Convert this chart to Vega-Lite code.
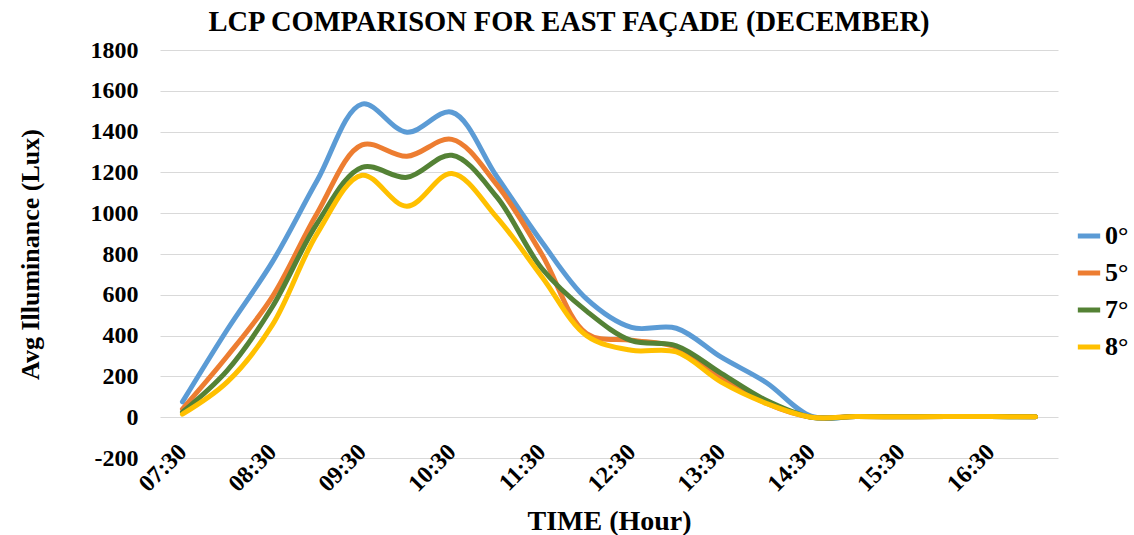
{
  "$schema": "https://vega.github.io/schema/vega-lite/v6.json",
  "autosize": "none",
  "width": 898,
  "height": 408,
  "padding": {"left": 160, "top": 50, "right": 76, "bottom": 77},
  "background": "white",
  "title": {
    "text": "LCP COMPARISON FOR EAST FAÇADE (DECEMBER)",
    "font": "Liberation Serif",
    "fontSize": 28.5,
    "fontWeight": "bold",
    "color": "#000000",
    "anchor": "middle",
    "dx": -40,
    "offset": 2
  },
  "config": {
    "view": {"stroke": null},
    "axis": {
      "labelFont": "Liberation Serif",
      "labelFontWeight": "bold",
      "labelColor": "#000000",
      "titleFont": "Liberation Serif",
      "titleFontWeight": "bold",
      "titleColor": "#000000",
      "gridColor": "#d9d9d9",
      "gridWidth": 1
    }
  },
  "data": {
    "values": [
      {"time": "07:30", "series": "0°", "lux": 75},
      {"time": "08:00", "series": "0°", "lux": 430},
      {"time": "08:30", "series": "0°", "lux": 760},
      {"time": "09:00", "series": "0°", "lux": 1160},
      {"time": "09:30", "series": "0°", "lux": 1535},
      {"time": "10:00", "series": "0°", "lux": 1397},
      {"time": "10:30", "series": "0°", "lux": 1495},
      {"time": "11:00", "series": "0°", "lux": 1180},
      {"time": "11:30", "series": "0°", "lux": 860},
      {"time": "12:00", "series": "0°", "lux": 580},
      {"time": "12:30", "series": "0°", "lux": 440},
      {"time": "13:00", "series": "0°", "lux": 436},
      {"time": "13:30", "series": "0°", "lux": 294},
      {"time": "14:00", "series": "0°", "lux": 170},
      {"time": "14:30", "series": "0°", "lux": 5},
      {"time": "15:00", "series": "0°", "lux": 3},
      {"time": "15:30", "series": "0°", "lux": 3},
      {"time": "16:00", "series": "0°", "lux": 3},
      {"time": "16:30", "series": "0°", "lux": 3},
      {"time": "17:00", "series": "0°", "lux": 2},
      {"time": "07:30", "series": "5°", "lux": 40},
      {"time": "08:00", "series": "5°", "lux": 300},
      {"time": "08:30", "series": "5°", "lux": 590},
      {"time": "09:00", "series": "5°", "lux": 1000},
      {"time": "09:30", "series": "5°", "lux": 1335},
      {"time": "10:00", "series": "5°", "lux": 1279},
      {"time": "10:30", "series": "5°", "lux": 1362},
      {"time": "11:00", "series": "5°", "lux": 1140},
      {"time": "11:30", "series": "5°", "lux": 800},
      {"time": "12:00", "series": "5°", "lux": 410},
      {"time": "12:30", "series": "5°", "lux": 377},
      {"time": "13:00", "series": "5°", "lux": 343},
      {"time": "13:30", "series": "5°", "lux": 196},
      {"time": "14:00", "series": "5°", "lux": 68},
      {"time": "14:30", "series": "5°", "lux": 0},
      {"time": "15:00", "series": "5°", "lux": 3},
      {"time": "15:30", "series": "5°", "lux": 2},
      {"time": "16:00", "series": "5°", "lux": 3},
      {"time": "16:30", "series": "5°", "lux": 4},
      {"time": "17:00", "series": "5°", "lux": 2},
      {"time": "07:30", "series": "7°", "lux": 25},
      {"time": "08:00", "series": "7°", "lux": 230},
      {"time": "08:30", "series": "7°", "lux": 540},
      {"time": "09:00", "series": "7°", "lux": 950},
      {"time": "09:30", "series": "7°", "lux": 1225},
      {"time": "10:00", "series": "7°", "lux": 1176},
      {"time": "10:30", "series": "7°", "lux": 1284},
      {"time": "11:00", "series": "7°", "lux": 1080},
      {"time": "11:30", "series": "7°", "lux": 730},
      {"time": "12:00", "series": "7°", "lux": 520},
      {"time": "12:30", "series": "7°", "lux": 375},
      {"time": "13:00", "series": "7°", "lux": 350},
      {"time": "13:30", "series": "7°", "lux": 215},
      {"time": "14:00", "series": "7°", "lux": 83},
      {"time": "14:30", "series": "7°", "lux": 0},
      {"time": "15:00", "series": "7°", "lux": 3},
      {"time": "15:30", "series": "7°", "lux": 2},
      {"time": "16:00", "series": "7°", "lux": 3},
      {"time": "16:30", "series": "7°", "lux": 3},
      {"time": "17:00", "series": "7°", "lux": 2},
      {"time": "07:30", "series": "8°", "lux": 15},
      {"time": "08:00", "series": "8°", "lux": 173},
      {"time": "08:30", "series": "8°", "lux": 451},
      {"time": "09:00", "series": "8°", "lux": 900},
      {"time": "09:30", "series": "8°", "lux": 1186},
      {"time": "10:00", "series": "8°", "lux": 1034},
      {"time": "10:30", "series": "8°", "lux": 1195},
      {"time": "11:00", "series": "8°", "lux": 980},
      {"time": "11:30", "series": "8°", "lux": 690},
      {"time": "12:00", "series": "8°", "lux": 400},
      {"time": "12:30", "series": "8°", "lux": 328},
      {"time": "13:00", "series": "8°", "lux": 320},
      {"time": "13:30", "series": "8°", "lux": 172},
      {"time": "14:00", "series": "8°", "lux": 68},
      {"time": "14:30", "series": "8°", "lux": 0},
      {"time": "15:00", "series": "8°", "lux": 3},
      {"time": "15:30", "series": "8°", "lux": 2},
      {"time": "16:00", "series": "8°", "lux": 3},
      {"time": "16:30", "series": "8°", "lux": 3},
      {"time": "17:00", "series": "8°", "lux": 2}
    ]
  },
  "mark": {"type": "line", "interpolate": "catmull-rom", "strokeWidth": 5, "strokeCap": "round"},
  "encoding": {
    "x": {
      "field": "time",
      "type": "ordinal",
      "sort": null,
      "scale": {"type": "point", "padding": 0.5},
      "axis": {
        "title": "TIME (Hour)",
        "titleFontSize": 28,
        "titleBaseline": "alphabetic",
        "titleY": 71,
        "values": ["07:30", "08:30", "09:30", "10:30", "11:30", "12:30", "13:30", "14:30", "15:30", "16:30"],
        "labelAngle": -45,
        "labelAlign": "right",
        "labelBaseline": "middle",
        "labelFontSize": 24,
        "labelPadding": -10,
        "labelDx": 8,
        "ticks": false,
        "domain": false,
        "grid": false
      }
    },
    "y": {
      "field": "lux",
      "type": "quantitative",
      "scale": {"domain": [-200, 1800], "nice": false},
      "axis": {
        "title": "Avg Illuminance (Lux)",
        "titleFontSize": 26,
        "titlePadding": 47,
        "labelExpr": "'' + datum.value",
        "values": [-200, 0, 200, 400, 600, 800, 1000, 1200, 1400, 1600, 1800],
        "labelFontSize": 24,
        "labelPadding": 22,
        "ticks": false,
        "domain": false
      }
    },
    "color": {
      "field": "series",
      "type": "nominal",
      "scale": {
        "domain": ["0°", "5°", "7°", "8°"],
        "range": ["#5B9BD5", "#ED7D31", "#548235", "#FFC000"]
      },
      "legend": {
        "title": null,
        "orient": "none",
        "legendX": 915,
        "legendY": 172,
        "symbolType": "stroke",
        "symbolStrokeWidth": 5,
        "symbolSize": 500,
        "labelFont": "Liberation Serif",
        "labelFontWeight": "bold",
        "labelFontSize": 26,
        "labelColor": "#000000",
        "rowPadding": 10,
        "labelOffset": 2
      }
    }
  }
}
